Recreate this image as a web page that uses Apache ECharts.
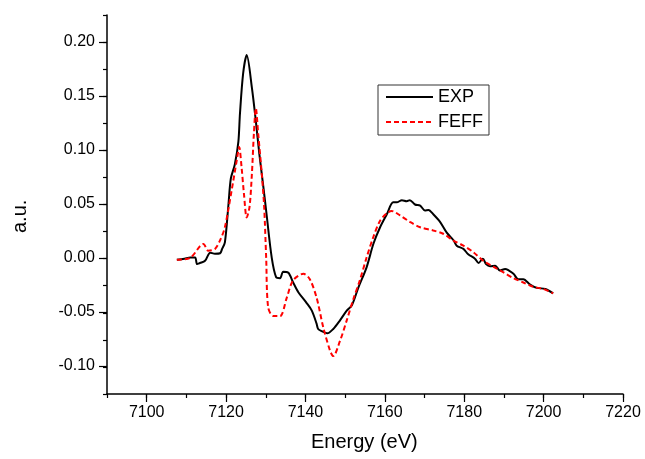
<!DOCTYPE html>
<html>
<head>
<meta charset="utf-8">
<script src="https://cdn.jsdelivr.net/npm/echarts@6/dist/echarts.min.js"></script>
<style>html,body{margin:0;padding:0;background:#fff}#c{width:645px;height:459px}</style>
</head>
<body>
<div id="c"></div>
<script>
// Energy (eV) / intensity (a.u.) pairs
const expData = [
  [7107.6, -0.001], [7109.5, 0.000], [7111.0, 0.001], [7112.2, 0.001], [7112.7, -0.005],
  [7113.4, -0.004], [7114.7, -0.002], [7116.0, 0.0055], [7117.2, 0.0045], [7118.5, 0.005],
  [7119.0, 0.009], [7119.7, 0.015], [7120.6, 0.050], [7121.2, 0.074], [7122.2, 0.087],
  [7123.1, 0.108], [7123.5, 0.134], [7124.3, 0.171], [7125.2, 0.188], [7126.5, 0.158],
  [7127.5, 0.127], [7128.4, 0.096], [7129.4, 0.066], [7130.2, 0.041], [7131.5, 0.001],
  [7132.6, -0.017], [7133.6, -0.018], [7134.4, -0.012], [7135.7, -0.013], [7136.9, -0.022],
  [7138.2, -0.031], [7140.3, -0.041], [7141.6, -0.048], [7142.8, -0.060], [7143.2, -0.065],
  [7144.1, -0.067], [7145.5, -0.069], [7147.0, -0.065], [7148.7, -0.057], [7150.4, -0.048],
  [7151.7, -0.043], [7153.3, -0.027], [7155.4, -0.008], [7157.1, 0.0135], [7158.8, 0.029],
  [7160.5, 0.041], [7162.1, 0.052], [7163.0, 0.052], [7164.3, 0.054], [7165.5, 0.053],
  [7166.3, 0.054], [7167.6, 0.050], [7168.9, 0.049], [7170.1, 0.0445], [7171.0, 0.045],
  [7172.2, 0.041], [7173.9, 0.034], [7175.6, 0.024], [7177.3, 0.017], [7178.1, 0.012],
  [7179.8, 0.009], [7181.0, 0.004], [7182.7, 0.000], [7183.6, -0.004], [7184.7, 0.000],
  [7185.5, -0.005], [7186.5, -0.007], [7187.8, -0.0065], [7189.0, -0.011], [7190.3, -0.0095],
  [7192.4, -0.014], [7193.6, -0.019], [7194.9, -0.019], [7196.6, -0.024], [7198.3, -0.027],
  [7200.4, -0.028], [7202.4, -0.032]
];
const feffData = [
  [7107.6, -0.001], [7110.9, 0.0006], [7114.3, 0.0136], [7115.5, 0.0074], [7117.2, 0.009],
  [7118.5, 0.017], [7119.7, 0.029], [7121.4, 0.063], [7122.7, 0.091], [7123.3, 0.103],
  [7123.9, 0.0845], [7124.5, 0.060], [7125.2, 0.038], [7125.9, 0.0475], [7126.5, 0.078],
  [7127.0, 0.115], [7127.5, 0.139], [7128.1, 0.115], [7129.0, 0.078], [7129.6, 0.0475],
  [7130.1, 0.001], [7130.6, -0.045], [7131.9, -0.053], [7133.6, -0.053], [7135.3, -0.036],
  [7136.9, -0.020], [7139.5, -0.014], [7141.1, -0.019], [7142.8, -0.036], [7144.5, -0.0636],
  [7146.2, -0.085], [7147.0, -0.090], [7148.7, -0.076], [7150.4, -0.057], [7152.1, -0.037],
  [7153.7, -0.020], [7155.4, 0.001], [7157.1, 0.020], [7158.8, 0.035], [7160.5, 0.042],
  [7161.7, 0.044], [7163.8, 0.040], [7166.3, 0.034], [7168.9, 0.029], [7172.2, 0.026],
  [7174.7, 0.023], [7177.3, 0.0167], [7179.8, 0.012], [7182.3, 0.006], [7184.8, -0.002],
  [7187.3, -0.0074], [7189.9, -0.0127], [7192.4, -0.018], [7194.9, -0.022], [7197.4, -0.026],
  [7199.9, -0.028], [7202.4, -0.032]
];
const seriesNames = ['EXP', 'FEFF'];
const xTitle = 'Energy (eV)';
const yTitle = 'a.u.';

const FONT = '"Liberation Sans", Arial, sans-serif';
const chart = echarts.init(document.getElementById('c'), null, {renderer: 'canvas'});
const lineCol = '#000';
chart.setOption({
  animation: false,
  backgroundColor: '#fff',
  grid: [
    {left: 107, right: 22, top: 15, bottom: 65},
    {left: 146.69, right: 22, top: 42, bottom: 93}
  ],
  xAxis: [
    {gridIndex: 0, type: 'value', min: 7090, max: 7220, interval: 10,
     axisLine: {onZero: false, lineStyle: {color: lineCol, width: 1.5}},
     axisTick: {length: 4, lineStyle: {color: lineCol, width: 1.2}},
     axisLabel: {show: false}, splitLine: {show: false}},
    {gridIndex: 1, type: 'value', min: 7100, max: 7220, interval: 20, position: 'bottom', offset: 28,
     axisLine: {show: false, onZero: false},
     axisTick: {show: true, length: 8, lineStyle: {color: lineCol, width: 1.2}},
     axisLabel: {fontSize: 16, color: '#000', fontFamily: FONT, margin: 11,
                 formatter: v => String(Math.round(v))},
     splitLine: {show: false}}
  ],
  yAxis: [
    {gridIndex: 0, type: 'value', min: -0.125, max: 0.225, interval: 0.025,
     axisLine: {show: true, onZero: false, lineStyle: {color: lineCol, width: 1.5}},
     axisTick: {show: true, length: 4, lineStyle: {color: lineCol, width: 1.2}},
     axisLabel: {show: false}, splitLine: {show: false}},
    {gridIndex: 1, type: 'value', min: -0.10, max: 0.20, interval: 0.05, position: 'left', offset: 39.69,
     axisLine: {show: false, onZero: false},
     axisTick: {show: true, length: 8, lineStyle: {color: lineCol, width: 1.2}},
     axisLabel: {fontSize: 16, color: '#000', fontFamily: FONT, margin: 12,
                 formatter: v => v.toFixed(2)},
     splitLine: {show: false}}
  ],
  legend: {
    orient: 'vertical', left: 378, top: 85,
    padding: [3, 6, 4, 7], itemGap: 7, itemWidth: 47, itemHeight: 14,
    borderColor: '#333', borderWidth: 1, borderRadius: 0,
    itemStyle: {color: 'rgba(0,0,0,0)', borderColor: 'rgba(0,0,0,0)', borderWidth: 0},
    textStyle: {fontSize: 18, color: '#000', fontFamily: FONT},
    data: seriesNames
  },
  graphic: [
    {type: 'text', style: {text: xTitle, font: '20px ' + FONT, fill: '#000'}, top: 432, left: 311},
    {type: 'text', x: 10, y: 233, rotation: Math.PI / 2,
     style: {text: yTitle, font: '20px ' + FONT, fill: '#000', textAlign: 'left', textVerticalAlign: 'top'}}
  ],
  series: [
    {name: seriesNames[0], type: 'line', xAxisIndex: 0, yAxisIndex: 0, data: expData,
     symbol: 'none', smooth: 0.3, lineStyle: {color: '#000', width: 2}, itemStyle: {color: '#000'}},
    {name: seriesNames[1], type: 'line', xAxisIndex: 0, yAxisIndex: 0, data: feffData,
     symbol: 'none', smooth: 0.3, lineStyle: {color: '#ff0000', width: 2, type: [5, 3]}, itemStyle: {color: '#ff0000'}}
  ]
});
</script>
</body>
</html>
